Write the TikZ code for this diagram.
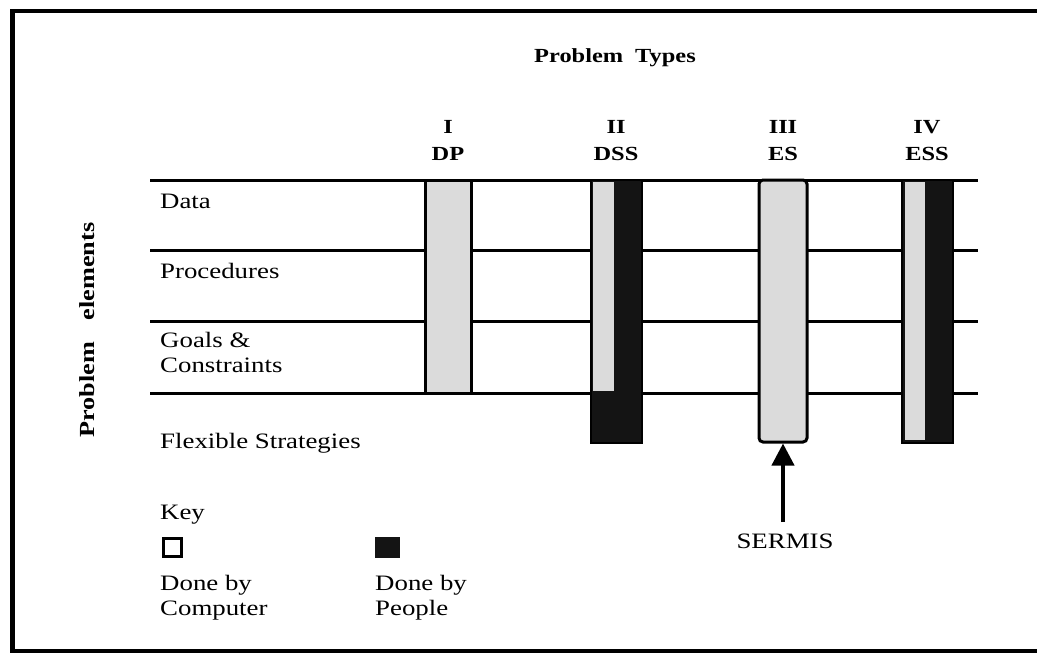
\documentclass[tikz,border=0pt]{standalone}
\usepackage{fontspec}
\setmainfont{Liberation Serif}[FakeStretch=1.22]
\usetikzlibrary{arrows.meta}
\definecolor{lightdot}{gray}{0.86}
\definecolor{darkdot}{gray}{0.08}
\begin{document}
\begin{tikzpicture}[x=1pt,y=-1pt,
  rowtext/.style={anchor=base west, inner sep=0pt, align=left,
                  font=\fontsize{22}{25}\selectfont},
  headtext/.style={anchor=base, inner sep=0pt, font=\bfseries\fontsize{20}{24}\selectfont},
  rule/.style={line width=3pt},
  frame/.style={line width=4.5pt},
  outline/.style={draw=black, line width=3pt}
]
\useasboundingbox (0,0) rectangle (1037,654);

% open frame (no right side)
\draw[frame] (1037,11) -- (12.5,11) -- (12.5,651) -- (1037,651);

% title and side label
\node[headtext] (title) at (615,62) {Problem\hspace{0.6em}Types};
\node[rotate=90, inner sep=0pt, font=\bfseries\fontsize{21.5}{24}\selectfont] (side) at (87,330) {Problem\hspace{1em}elements};

% column headings
\node[headtext] (n1) at (448,133) {I};
\node[headtext] (c1) at (448,160) {DP};
\node[headtext] (n2) at (616,133) {II};
\node[headtext] (c2) at (616,160) {DSS};
\node[headtext] (n3) at (783,133) {III};
\node[headtext] (c3) at (783,160) {ES};
\node[headtext] (n4) at (927,133) {IV};
\node[headtext] (c4) at (927,160) {ESS};

% row rules
\draw[rule] (150,180) -- (978,180);
\draw[rule] (150,250) -- (978,250);
\draw[rule] (150,321) -- (978,321);
\draw[rule] (150,393) -- (978,393);

% row labels (multi-line nodes sit on their last baseline)
\node[rowtext] (data) at (160,208) {Data};
\node[rowtext] (proc) at (160,278) {Procedures};
\node[rowtext] (goals) at (160,372) {Goals \&\\Constraints};
\node[rowtext] (flex) at (160,448) {Flexible Strategies};

% I  DP: computer only, down to goals
\node[outline, fill=lightdot, minimum width=46, minimum height=213, inner sep=0pt] (dp) at (448,286.5) {};

% II DSS: shared, people only for strategies
\node[fill=darkdot, draw=black, line width=2pt, minimum width=51, minimum height=263, inner sep=0pt] (dss) at (616,311.5) {};
\fill[lightdot] (593,182) rectangle (614,391);

% III ES: computer throughout
\node[outline, fill=lightdot, minimum width=48, minimum height=262, inner sep=0pt,
      rounded corners=4pt] (es) at (783,311) {};

% IV ESS: shared throughout
\node[fill=darkdot, draw=black, line width=2pt, minimum width=51, minimum height=263, inner sep=0pt] (ess) at (927.5,311.5) {};
\fill[lightdot] (905,182) rectangle (925,440);

% SERMIS pointer
\node[headtext, font=\fontsize{22}{25}\selectfont] (sermis) at (785,548) {SERMIS};
\draw[line width=4pt, -{Triangle[width=22pt,length=22pt]}] ([yshift=11pt]sermis.north -| es.south) -- (es.south);

% key
\node[rowtext] (key) at (160,519) {Key};
\node[draw=black, line width=3pt, minimum width=18, minimum height=18, inner sep=0pt] (kcomp) at (172,547.5) {};
\node[fill=darkdot, minimum width=25, minimum height=21, inner sep=0pt] (kpeople) at (387.5,547) {};
\node[rowtext] (tcomp) at (160,615) {Done by\\Computer};
\node[rowtext] (tpeople) at (375,615) {Done by\\People};
\end{tikzpicture}
\end{document}
